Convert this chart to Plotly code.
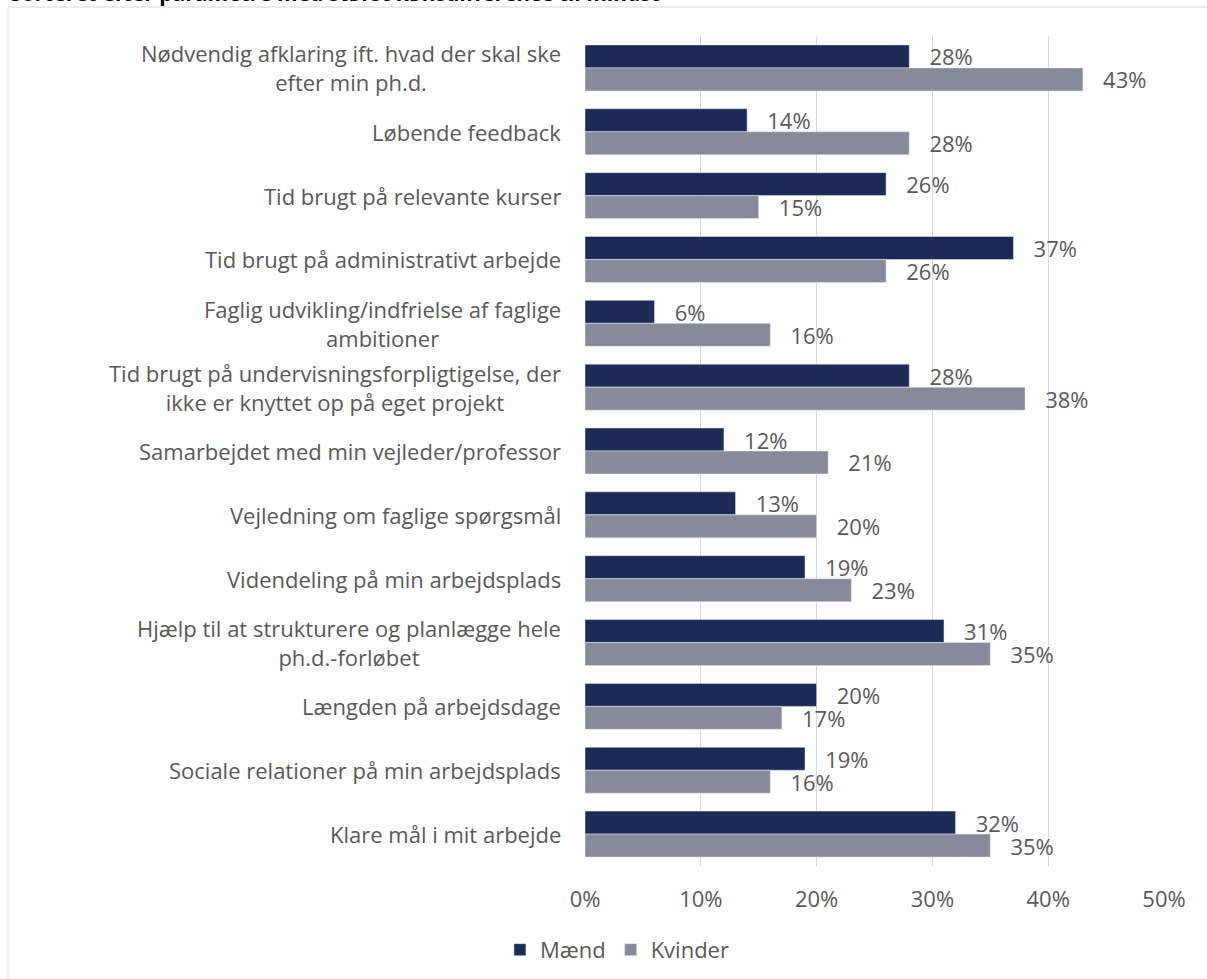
import plotly.graph_objects as go

categories = [
    "Nødvendig afklaring ift. hvad der skal ske<br>efter min ph.d.",
    "Løbende feedback",
    "Tid brugt på relevante kurser",
    "Tid brugt på administrativt arbejde",
    "Faglig udvikling/indfrielse af faglige<br>ambitioner",
    "Tid brugt på undervisningsforpligtigelse, der<br>ikke er knyttet op på eget projekt",
    "Samarbejdet med min vejleder/professor",
    "Vejledning om faglige spørgsmål",
    "Videndeling på min arbejdsplads",
    "Hjælp til at strukturere og planlægge hele<br>ph.d.-forløbet",
    "Længden på arbejdsdage",
    "Sociale relationer på min arbejdsplads",
    "Klare mål i mit arbejde",
]
maend = [0.28, 0.14, 0.26, 0.37, 0.06, 0.28, 0.12, 0.13, 0.19, 0.31, 0.20, 0.19, 0.32]
kvinder = [0.43, 0.28, 0.15, 0.26, 0.16, 0.38, 0.21, 0.20, 0.23, 0.35, 0.17, 0.16, 0.35]
x_ticks = [0, 0.1, 0.2, 0.3, 0.4, 0.5]
x_tick_labels = ["0%", "10%", "20%", "30%", "40%", "50%"]
title_text = "Sorteret efter parametre med størst kønsdifference til mindst"

FONT = "Open Sans"
FS = 22
GREY_TXT = "#595959"
C_M = "#1B2A57"
C_K = "#878A9B"
PAD = "\u00a0\u00a0\u00a0"

ids = list(range(len(categories)))

fig = go.Figure()
fig.add_trace(go.Bar(
    name="Mænd", y=ids, x=maend, orientation="h", marker_color=C_M,
    text=[f"{PAD}{round(v*100)}%" for v in maend], textposition="outside",
    constraintext="none",
    textfont=dict(family=FONT, size=FS, color=GREY_TXT), cliponaxis=False,
))
fig.add_trace(go.Bar(
    name="Kvinder", y=ids, x=kvinder, orientation="h", marker_color=C_K,
    text=[f"{PAD}{round(v*100)}%" for v in kvinder], textposition="outside",
    constraintext="none",
    textfont=dict(family=FONT, size=FS, color=GREY_TXT), cliponaxis=False,
))

annotations = []
for i, c in enumerate(categories):
    annotations.append(dict(
        x=0, xref="paper", y=i, yref="y", text=c, showarrow=False,
        xanchor="right", xshift=-22, align="center",
        font=dict(family=FONT, size=FS, color=GREY_TXT),
    ))
annotations.append(dict(
    x=-0.9965, xref="paper", y=1.0325, yref="paper", text="<b>" + title_text + "</b>",
    showarrow=False, xanchor="left", yanchor="bottom",
    font=dict(family=FONT, size=21, color="#000000"),
))

fig.update_layout(
    width=1207, height=979,
    margin=dict(l=585, r=43, t=36, b=113, autoexpand=False),
    paper_bgcolor="white", plot_bgcolor="white",
    barmode="group", bargap=0.28, bargroupgap=0,
    font=dict(family=FONT, size=FS, color=GREY_TXT),
    xaxis=dict(
        range=[0, 0.5], tickvals=x_ticks, ticktext=x_tick_labels,
        showgrid=True, gridcolor="#D9D9D9", gridwidth=1, zeroline=False,
        showline=False, ticks="", ticklabelstandoff=18,
        tickfont=dict(family=FONT, size=FS, color=GREY_TXT),
    ),
    yaxis=dict(
        tickvals=ids, showticklabels=False, range=[12.5, -0.5],
        showgrid=False, zeroline=False, showline=False,
    ),
    legend=dict(
        orientation="h", x=0.056, xanchor="center", y=-0.101, yanchor="middle",
        font=dict(family=FONT, size=FS, color=GREY_TXT), traceorder="normal",
        itemclick=False,
    ),
    annotations=annotations,
    shapes=[dict(
        type="rect", xref="paper", yref="paper",
        x0=-0.9965, x1=1.2, y0=-0.2, y1=1.0349,
        line=dict(color="#D9D9D9", width=1), fillcolor="rgba(0,0,0,0)", layer="below",
    )],
    showlegend=True,
)

fig.write_html(
    "out.html",
    config={"displayModeBar": False},
    post_script="document.body.style.margin='0';document.body.style.overflow='hidden';",
)
